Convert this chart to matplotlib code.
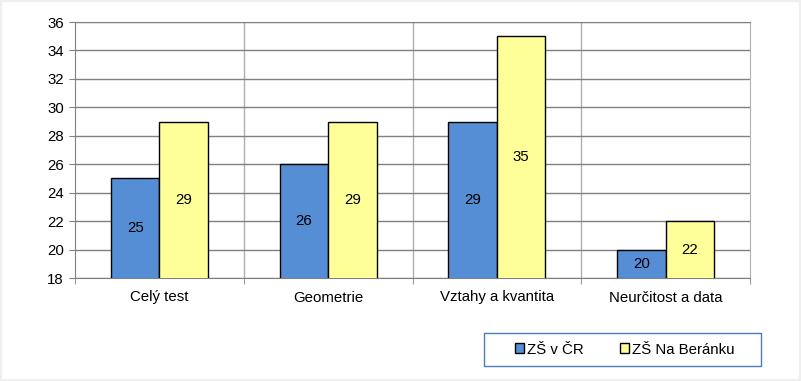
import matplotlib
matplotlib.use("Agg")
import matplotlib.pyplot as plt
import numpy as np
from matplotlib.patches import Rectangle, Patch

categories = ["Celý test", "Geometrie", "Vztahy a kvantita", "Neurčitost a data"]
series_names = ["ZŠ v ČR", "ZŠ Na Beránku"]
cr_values = [25, 26, 29, 20]
beranek_values = [29, 29, 35, 22]
colors = ["#558ED5", "#FFFF99"]

plt.rcParams['font.family'] = ['Liberation Sans', 'DejaVu Sans']
FS = 10.8

W, H = 801, 381
fig = plt.figure(figsize=(W / 100, H / 100), dpi=100)
fig.patch.set_facecolor("white")
fig.add_artist(Rectangle((0, 0), 1, 1, transform=fig.transFigure, fill=False,
                         edgecolor="#EFEFEF", linewidth=3))

L, R, T, B = 75, 750, 22, 278
ax = fig.add_axes([L / W, 1 - B / H, (R - L) / W, (B - T) / H])

x = np.arange(len(categories))
bw = 0.287
b1 = ax.bar(x - bw / 2, cr_values, bw, color=colors[0], edgecolor="black", linewidth=1, zorder=3)
b2 = ax.bar(x + bw / 2, beranek_values, bw, color=colors[1], edgecolor="black", linewidth=1, zorder=3)

ymin, ymax = 18, 36
ax.set_ylim(ymin, ymax)
ax.set_xlim(-0.5, len(categories) - 0.5)
ax.set_yticks(np.arange(18, 37, 2))
ax.tick_params(axis="y", length=4, color="#808080", labelsize=FS, pad=4)

for bars, vals in ((b1, cr_values), (b2, beranek_values)):
    for rect, v in zip(bars, vals):
        ax.text(rect.get_x() + rect.get_width() / 2, (ymin + v) / 2, str(v),
                ha="center", va="center", fontsize=FS, zorder=4)

ax.yaxis.grid(True, color="#808080", linewidth=1, zorder=0)
for b in np.arange(0.5, len(categories) - 0.5, 1):
    ax.axvline(b, color="#B0B0B0", linewidth=1, zorder=0)

ax.set_xticks(x)
ax.set_xticklabels(categories)
ax.tick_params(axis="x", length=0, labelsize=FS, pad=9)
ax.set_xticks(np.arange(-0.5, len(categories), 1), minor=True)
ax.tick_params(axis="x", which="minor", length=4, color="#808080")

for s in ["left", "bottom", "top"]:
    ax.spines[s].set_color("#808080")
ax.spines["right"].set_color("#B0B0B0")

# legend frame
lx0, lx1, ly0, ly1 = 484, 761, 333, 366
fig.add_artist(Rectangle((lx0 / W, 1 - ly1 / H), (lx1 - lx0) / W, (ly1 - ly0) / H,
                         transform=fig.transFigure, fill=True, facecolor="white",
                         edgecolor="#4A7EBB", linewidth=1))
handles = [Patch(facecolor=colors[0], edgecolor="black"),
           Patch(facecolor=colors[1], edgecolor="black")]
leg = fig.legend(handles, series_names, ncol=2, loc="center",
                 bbox_to_anchor=(624.5 / W, 1 - 349.5 / H),
                 frameon=False, fontsize=FS,
                 handlelength=0.6, handleheight=0.6, handletextpad=0.2,
                 columnspacing=2.4, borderpad=0.0, borderaxespad=0)
leg.set_zorder(5)

fig.savefig("out.png", dpi=100)
